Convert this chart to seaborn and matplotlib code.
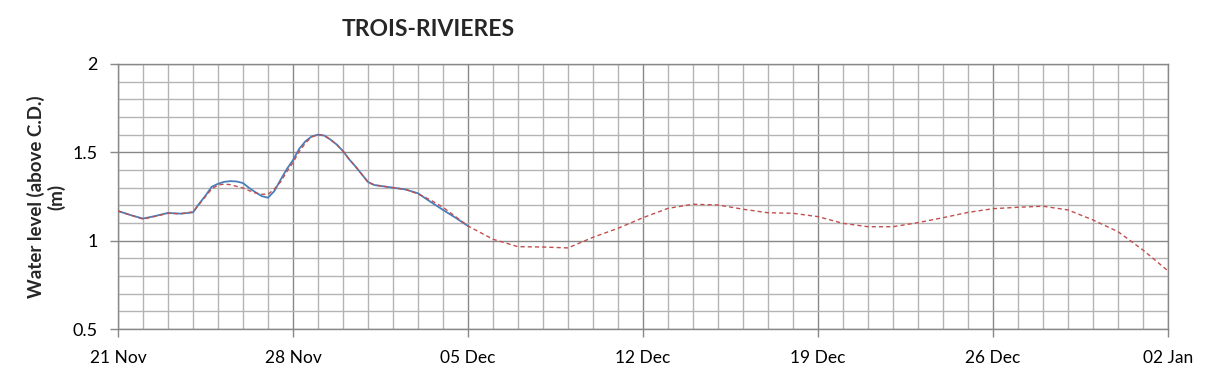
import numpy as np
import pandas as pd
import matplotlib
matplotlib.use("Agg")
import matplotlib.pyplot as plt
from matplotlib.ticker import MultipleLocator, FixedLocator
import seaborn as sns

# ---- data (days since 21 Nov) ----
obs_days = [0, 0.5, 1, 1.5, 2, 2.5, 3, 3.25, 3.5, 3.75, 4, 4.25, 4.5, 4.75, 5,
            5.25, 5.5, 5.75, 6, 6.25, 6.5, 6.75, 7, 7.25, 7.5, 7.75, 8, 8.25,
            8.5, 8.75, 9, 9.25, 9.5, 9.75, 10, 10.25, 10.5, 11, 11.5, 12, 12.5,
            13, 13.5, 14]
obs_level = [1.168, 1.145, 1.125, 1.140, 1.157, 1.153, 1.160, 1.210, 1.255,
             1.305, 1.322, 1.333, 1.337, 1.335, 1.326, 1.298, 1.274, 1.252,
             1.243, 1.280, 1.344, 1.405, 1.456, 1.520, 1.563, 1.590, 1.600,
             1.595, 1.572, 1.544, 1.507, 1.460, 1.420, 1.376, 1.332, 1.315,
             1.310, 1.300, 1.290, 1.268, 1.220, 1.174, 1.130, 1.083]

fc_days = [0, 0.5, 1, 1.5, 2, 2.5, 3, 3.25, 3.5, 3.75, 4, 4.25, 4.5, 4.75, 5,
           5.25, 5.5, 5.75, 6, 6.25, 6.5, 6.75, 7, 7.25, 7.5, 7.75, 8, 8.25,
           8.5, 8.75, 9, 9.25, 9.5, 9.75, 10, 10.25, 10.5, 11, 11.5, 12, 12.5,
           13, 13.5, 14,
           15, 16, 17, 18, 19, 20, 21, 22, 23, 24, 25, 26, 27, 28, 29, 30, 31,
           32, 33, 34, 35, 36, 37, 38, 39, 40, 41, 42]
fc_level = [1.168, 1.145, 1.122, 1.138, 1.155, 1.152, 1.163, 1.206, 1.250,
            1.293, 1.315, 1.320, 1.317, 1.307, 1.298, 1.283, 1.270, 1.263,
            1.262, 1.292, 1.332, 1.390, 1.442, 1.505, 1.553, 1.587, 1.600,
            1.595, 1.572, 1.544, 1.507, 1.460, 1.420, 1.376, 1.332, 1.315,
            1.310, 1.300, 1.290, 1.265, 1.230, 1.189, 1.136, 1.083,
            1.008, 0.966, 0.964, 0.959, 1.019, 1.070, 1.130, 1.183, 1.206,
            1.202, 1.178, 1.158, 1.155, 1.136, 1.098, 1.079, 1.079, 1.102,
            1.130, 1.160, 1.181, 1.189, 1.195, 1.174, 1.117, 1.051, 0.947,
            0.829]

tick_days = [0, 7, 14, 21, 28, 35, 42]
tick_labels = ["21 Nov", "28 Nov", "05 Dec", "12 Dec", "19 Dec", "26 Dec", "02 Jan"]
y_ticks = [0.5, 1.0, 1.5, 2.0]
y_tick_labels = ["0.5", "1", "1.5", "2"]

title = "TROIS-RIVIERES"
ylabel = "Water level (above C.D.)\n(m)"

obs = pd.DataFrame({"day": obs_days, "level": obs_level})
fc = pd.DataFrame({"day": fc_days, "level": fc_level})

sns.set_theme(style="white")
plt.rcParams["font.family"] = ["Lato", "DejaVu Sans"]

fig = plt.figure(figsize=(12.09, 3.78), dpi=100)
ax = fig.add_axes([118 / 1209, 1 - 329 / 378, 1050 / 1209, 265 / 378])

sns.lineplot(data=obs, x="day", y="level", ax=ax, color="#4A7EBB", lw=1.3,
             zorder=3)
sns.lineplot(data=fc, x="day", y="level", ax=ax, color="#C0504D", lw=1.0,
             zorder=4, linestyle=(0, (3, 2.2)))

ax.set_xlim(0, 42)
ax.set_ylim(0.5, 2.0)
ax.xaxis.set_major_locator(FixedLocator(tick_days))
ax.set_xticklabels(tick_labels)
ax.xaxis.set_minor_locator(MultipleLocator(1))
ax.yaxis.set_major_locator(FixedLocator(y_ticks))
ax.set_yticklabels(y_tick_labels)
ax.yaxis.set_minor_locator(MultipleLocator(0.1))

ax.grid(which="minor", color="#B4B4B4", lw=1.0)
ax.grid(which="major", color="#888888", lw=1.0)
ax.set_axisbelow(True)

ax.tick_params(axis="both", which="major", length=6, width=1, color="#888888",
               labelsize=12.5, labelcolor="black", direction="out",
               left=True, bottom=True)
ax.tick_params(axis="x", which="major", pad=9)
ax.tick_params(axis="y", which="major", pad=8.5, labelsize=13)
ax.tick_params(which="minor", length=0)

for s in ax.spines.values():
    s.set_color("#888888")
    s.set_linewidth(1.0)

ax.set_xlabel("")
ax.set_ylabel(ylabel, fontsize=13.5, fontweight="bold", linespacing=1.1)
ax.yaxis.set_label_coords((65 - 118) / 1050, 0.5)
fig.text(428 / 1209, 1 - 30 / 378, title, ha="center", va="center",
         fontsize=16.5, fontweight="bold")

fig.savefig("out.png", dpi=100, facecolor="white")
